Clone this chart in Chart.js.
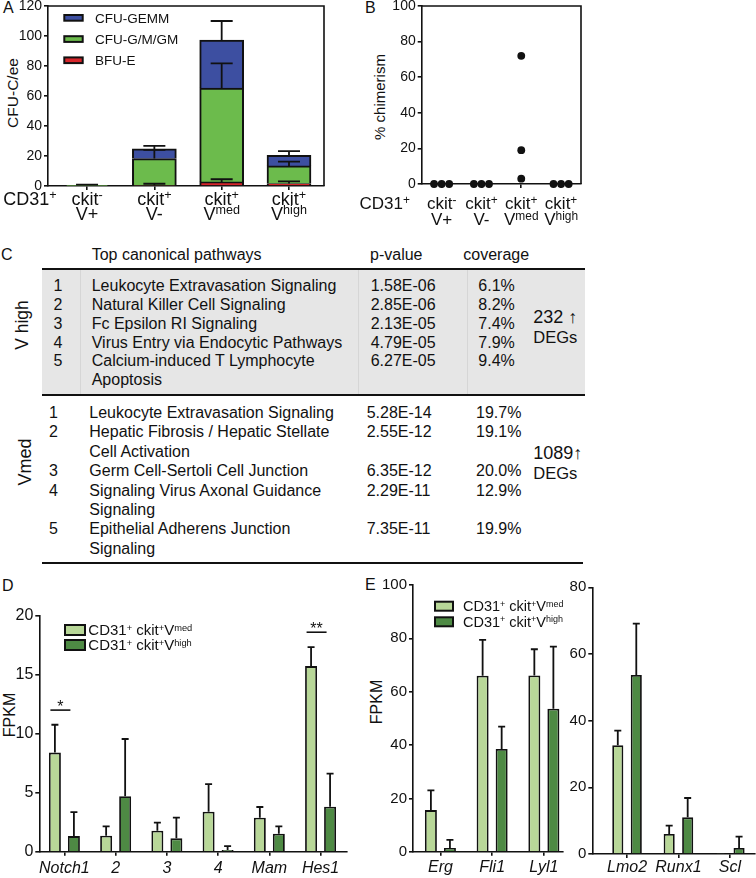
<!DOCTYPE html>
<html><head><meta charset="utf-8">
<script src="https://cdn.jsdelivr.net/npm/chart.js@4.4.1/dist/chart.umd.min.js"></script>
<style>
html,body{margin:0;padding:0;background:#fff;}
body{width:756px;height:878px;position:relative;overflow:hidden;font-family:"Liberation Sans",Arial,sans-serif;color:#111;}
canvas{position:absolute;}
.abs{position:absolute;white-space:nowrap;}
.rot{position:absolute;white-space:nowrap;transform:translate(-50%,-50%) rotate(-90deg);}
</style></head><body>
<script>
// ================= DATA =================
// Panel A (stacked colony counts, mean + SD)
const aCategoryLines = [['ckit^{-}','V+'],['ckit^{+}','V-'],['ckit^{+}','V^{med}'],['ckit^{+}','V^{high}']];
const aSeriesLabels = ['BFU-E','CFU-G/M/GM','CFU-GEMM'];
const aBFUE      = [0,   0.5,  2.7, 1.6];
const aBFUEsd    = [0,   1.0,  1.8, 1.5];
const aCFUGMGM   = [0.3, 17.8, 62.6, 11.8];
const aCFUGMGMsd = [0.6, 5.8,  16.4, 2.9];
const aCFUGEMM   = [0,   6.4,  32.0, 7.1];
const aCFUGEMMsd = [0,   2.0,  12.7, 2.8];
const aYTicks = [0,20,40,60,80,100,120];
const aYTitle = 'CFU-C/ee';
const groupPrefix = 'CD31^{+}';

// Panel B (% chimerism, individual recipients)
const bCkitNegVpos  = [0,0,0];
const bCkitPosVneg  = [0,0,0];
const bCkitPosVmed  = [72,19,3];
const bCkitPosVhigh = [0,0,0];
const bYTicks = [0,20,40,60,80,100];
const bYTitle = '% chimerism';

// Panel C (table)
const cHeader = ['Top canonical pathways','p-value','coverage'];
const cVhighPathways = ['Leukocyte Extravasation Signaling','Natural Killer Cell Signaling','Fc Epsilon RI Signaling','Virus Entry via Endocytic Pathways','Calcium-induced T Lymphocyte Apoptosis'];
const cVhighPvalues  = ['1.58E-06','2.85E-06','2.13E-05','4.79E-05','6.27E-05'];
const cVhighCoverage = ['6.1%','8.2%','7.4%','7.9%','9.4%'];
const cVhighDEGs = ['232 \u2191','DEGs'];
const cVmedPathways = ['Leukocyte Extravasation Signaling','Hepatic Fibrosis / Hepatic Stellate Cell Activation','Germ Cell-Sertoli Cell Junction','Signaling Virus Axonal Guidance Signaling','Epithelial Adherens Junction Signaling'];
const cVmedPvalues  = ['5.28E-14','2.55E-12','6.35E-12','2.29E-11','7.35E-11'];
const cVmedCoverage = ['19.7%','19.1%','20.0%','12.9%','19.9%'];
const cVmedDEGs = ['1089\u2191','DEGs'];
const cGroupNames = ['V high','Vmed'];

// Panel D (Notch pathway FPKM)
const seriesLabels = ['CD31^{+} ckit^{+}V^{med}','CD31^{+} ckit^{+}V^{high}'];
const dGenes = ['Notch1','2','3','4','Mam','Hes1'];
const dVmed     = [8.4, 1.35, 1.78, 3.39, 2.88, 15.73];
const dVmedSd   = [2.36, 0.8, 0.68, 2.34, 0.91, 1.61];
const dVhigh    = [1.32, 4.7, 1.13, 0.14, 1.53, 3.81];
const dVhighSd  = [2.03, 4.85, 1.75, 0.34, 0.62, 2.8];
const dYTicks = [0,5,10,15,20];
const dSignificance = [{gene:'Notch1', label:'*', level:12.0},{gene:'Hes1', label:'**', level:18.6}];

// Panel E (haematopoietic TF FPKM)
const eGenesLeft   = ['Erg','Fli1','Lyl1'];
const eLeftVmed    = [15.6, 66.0, 66.1];
const eLeftVmedSd  = [7.4, 13.4, 9.8];
const eLeftVhigh   = [1.4, 38.5, 53.6];
const eLeftVhighSd = [3.0, 8.4, 23.3];
const eGenesRight   = ['Lmo2','Runx1','Scl'];
const eRightVmed    = [32.6, 6.0, 0.3];
const eRightVmedSd  = [4.4, 2.5, 0];
const eRightVhigh   = [53.7, 11.0, 1.8];
const eRightVhighSd = [15.4, 5.8, 3.4];
const eLeftYTicks  = [0,20,40,60,80,100];
const eRightYTicks = [0,20,40,60,80];
const fpkmTitle = 'FPKM';

// ================= STYLE =================
const FONT = '"Liberation Sans", Arial, sans-serif';
const INK = '#111';
const COL_GEMM = '#3d4fa1', COL_GMGM = '#6cbb4c', COL_BFUE = '#d7262b';
const COL_MED = '#b8d798', COL_HIGH = '#4e8a44';

Chart.defaults.font.family = FONT;
Chart.defaults.color = INK;
Chart.defaults.animation = false;

// ================= HELPERS =================
function parseRich(s){
  const parts=[]; const re=/\^\{([^}]*)\}/g; let last=0,m;
  while((m=re.exec(s))){ if(m.index>last) parts.push({t:s.slice(last,m.index),sup:false}); parts.push({t:m[1],sup:true}); last=re.lastIndex; }
  if(last<s.length) parts.push({t:s.slice(last),sup:false});
  return parts;
}
function drawRich(ctx, s, x, baseline, size, align, supRatio){
  const parts=parseRich(s), sup=size*(supRatio||0.62), raise=size*0.32;
  let total=0;
  parts.forEach(p=>{ ctx.font=(p.sup?sup:size)+'px '+FONT; p.w=ctx.measureText(p.t).width; total+=p.w; });
  let cx = align==='center' ? x-total/2 : x;
  ctx.textAlign='left'; ctx.textBaseline='alphabetic';
  parts.forEach(p=>{ ctx.font=(p.sup?sup:size)+'px '+FONT; ctx.fillText(p.t, cx, p.sup?baseline-raise:baseline); cx+=p.w; });
}
function addCanvas(left, top, w, h){
  const c=document.createElement('canvas'); c.width=w; c.height=h;
  c.style.left=left+'px'; c.style.top=top+'px'; c.style.width=w+'px'; c.style.height=h+'px';
  document.body.appendChild(c); return c;
}
function addText(txt, left, top, size, lh, extra){
  const d=document.createElement('div'); d.className='abs'; d.textContent=txt;
  d.style.left=left+'px'; d.style.top=top+'px'; d.style.fontSize=size+'px'; d.style.lineHeight=lh+'px';
  if(extra) Object.assign(d.style, extra);
  document.body.appendChild(d); return d;
}
function addRot(txt, cx, cy, size){
  const d=document.createElement('div'); d.className='rot'; d.textContent=txt;
  d.style.left=cx+'px'; d.style.top=cy+'px'; d.style.fontSize=size+'px'; d.style.lineHeight=size+'px';
  document.body.appendChild(d); return d;
}
function yAxis(ticksArr, size, width, stacked){
  return {type:'linear', position:'left', stacked:!!stacked, min:ticksArr[0], max:ticksArr[ticksArr.length-1],
    afterBuildTicks(s){ s.ticks = ticksArr.map(v=>({value:v})); },
    ticks:{font:{size:size}, color:INK, padding:2},
    grid:{drawOnChartArea:false, drawTicks:true, tickLength:4, color:INK, lineWidth:1.6},
    border:{display:true, color:INK, width:1.6},
    afterFit(s){ s.width=width; }};
}
function xAxis(labels, min, max, height, tickOpts){
  return {type:'linear', position:'bottom', min:min, max:max, offset:false, bounds:'data',
    afterBuildTicks(s){ s.ticks = labels.map((_,i)=>({value:i})); },
    ticks:Object.assign({autoSkip:false, maxRotation:0, minRotation:0, color:INK, callback:(v)=>labels[v]}, tickOpts),
    grid:{offset:false, drawOnChartArea:false, drawTicks:true, tickLength:4, color:INK, lineWidth:1.6},
    border:{display:true, color:INK, width:1.6},
    afterFit(s){ s.height=height; }};
}
function xy(arr){ return arr.map((v,i)=>({x:i, y:v})); }

// plugins (closures)
function errorBars(cap, lw){
  return {id:'errorBars', afterDatasetsDraw(chart){
    const ctx=chart.ctx, ys=chart.scales.y;
    chart.data.datasets.forEach((ds,di)=>{
      if(!ds.errors) return;
      chart.getDatasetMeta(di).data.forEach((el,i)=>{
        const e=ds.errors[i]; if(!e) return;
        const top=ys.getValueForPixel(el.y), yEnd=ys.getPixelForValue(top+e);
        ctx.save(); ctx.strokeStyle=INK; ctx.lineWidth=lw; ctx.lineCap='butt';
        ctx.beginPath(); ctx.moveTo(el.x, el.y); ctx.lineTo(el.x, yEnd);
        ctx.moveTo(el.x-cap/2, yEnd); ctx.lineTo(el.x+cap/2, yEnd); ctx.stroke(); ctx.restore();
      });
    });
  }};
}
function frame(){
  return {id:'frame', afterDraw(chart){
    const ctx=chart.ctx, a=chart.chartArea;
    ctx.save(); ctx.strokeStyle=INK; ctx.lineWidth=1.6; ctx.beginPath();
    ctx.moveTo(a.left, a.top); ctx.lineTo(a.right, a.top); ctx.lineTo(a.right, a.bottom); ctx.stroke(); ctx.restore();
  }};
}
function boxLegend(o){
  return {id:'boxLegend', afterDraw(chart){
    const ctx=chart.ctx, a=chart.chartArea;
    o.order.forEach((di,k)=>{
      const ds=chart.data.datasets[di];
      const sx=a.left+o.x, sy=a.top+o.y+k*o.gap;
      ctx.save(); ctx.fillStyle=ds.backgroundColor; ctx.fillRect(sx,sy,o.w,o.h);
      ctx.strokeStyle=INK; ctx.lineWidth=o.lw; ctx.strokeRect(sx,sy,o.w,o.h);
      ctx.fillStyle=INK; drawRich(ctx, ds.label, sx+o.w+o.textGap, sy+o.h/2+o.size*0.36, o.size, 'left');
      ctx.restore();
    });
  }};
}
function catLabels(o){
  return {id:'catLabels', afterDraw(chart){
    const ctx=chart.ctx, xs=chart.scales.x, a=chart.chartArea;
    ctx.save(); ctx.fillStyle=INK;
    o.lines.forEach((ls,i)=>{ const px=xs.getPixelForValue(i); ls.forEach((t,j)=>drawRich(ctx,t,px,a.bottom+o.baselines[j],o.size,'center',0.7)); });
    drawRich(ctx, o.prefix, o.prefixX, a.bottom+o.baselines[0], o.size, 'left', 0.7);
    ctx.restore();
  }};
}
function sigMarks(marks, labels, o){
  return {id:'sigMarks', afterDatasetsDraw(chart){
    const ctx=chart.ctx, xs=chart.scales.x, ys=chart.scales.y;
    marks.forEach(m=>{
      const cx=xs.getPixelForValue(labels.indexOf(m.gene)), py=ys.getPixelForValue(m.level);
      ctx.save(); ctx.strokeStyle=INK; ctx.lineWidth=1.6; ctx.beginPath();
      ctx.moveTo(cx+o.from,py); ctx.lineTo(cx+o.to,py); ctx.stroke();
      ctx.fillStyle=INK; ctx.font=o.size+'px '+FONT; ctx.textAlign='center'; ctx.textBaseline='alphabetic';
      ctx.fillText(m.label, cx+(o.from+o.to)/2, py+o.dy); ctx.restore();
    });
  }};
}
const baseOpts = (pad, scales)=>({responsive:false, animation:false, events:[], layout:{padding:pad},
  plugins:{legend:{display:false}, tooltip:{enabled:false}}, scales:scales});

// ================= PANEL LETTERS & TITLES =================
addText('A', 3, 0, 16, 16);
addText('B', 365, 0, 16, 16);
addText('C', 1, 247, 16, 16);
addText('D', 2, 578, 16, 16);
addText('E', 365, 577, 16, 16);
addRot(aYTitle, 13, 93, 15.5);
addRot(bYTitle, 379, 97, 15);
addRot(fpkmTitle, 9.5, 715, 16);
addRot(fpkmTitle, 377, 702, 16);

// ================= PANEL A =================
new Chart(addCanvas(0,-8,345,238), {
  type:'bar',
  data:{datasets:[
    {label:aSeriesLabels[0], data:xy(aBFUE), errors:aBFUEsd, backgroundColor:COL_BFUE, stack:'s'},
    {label:aSeriesLabels[1], data:xy(aCFUGMGM), errors:aCFUGMGMsd, backgroundColor:COL_GMGM, stack:'s'},
    {label:aSeriesLabels[2], data:xy(aCFUGEMM), errors:aCFUGEMMsd, backgroundColor:COL_GEMM, stack:'s'}
  ].map(d=>Object.assign(d,{borderColor:INK, borderWidth:2, borderSkipped:'start', barThickness:44}))},
  options: baseOpts({top:14,right:21,bottom:0,left:0}, {
    x: xAxis(aCategoryLines, -0.58, 3.52, 44, {display:false}),
    y: yAxis(aYTicks, 14, 48, true)
  }),
  plugins:[errorBars(22,1.8), frame(),
    boxLegend({order:[2,1,0], x:16.3, y:9, gap:21.2, w:18.4, h:5.7, lw:2, textGap:12.3, size:13.5}),
    catLabels({lines:aCategoryLines, baselines:[19,34], size:18, prefix:groupPrefix, prefixX:3.3})]
});

// ================= PANEL B =================
function jitter(vals, spread){
  return vals.map((v,i)=>{ const same=vals.filter(u=>u===v).length; const k=vals.slice(0,i).filter(u=>u===v).length; return (k-(same-1)/2)*spread; });
}
const bGroups = [bCkitNegVpos, bCkitPosVneg, bCkitPosVmed, bCkitPosVhigh];
const bPoints = bGroups.flatMap((vals,g)=>jitter(vals,0.19).map((d,i)=>({x:g+d, y:vals[i]})));
new Chart(addCanvas(345,-8,250,238), {
  type:'scatter',
  data:{datasets:[{label:bYTitle, data:bPoints, backgroundColor:INK, borderColor:INK, pointRadius:3.9, borderWidth:0, clip:false}]},
  options: baseOpts({top:14,right:14,bottom:0,left:0}, {
    x: xAxis(aCategoryLines, -0.5, 3.5, 46, {display:false}),
    y: yAxis(bYTicks, 14, 76.7)
  }),
  plugins:[frame(), catLabels({lines:aCategoryLines, baselines:[25.3,41], size:17, prefix:groupPrefix, prefixX:14.5})]
});

// ================= PANEL C (table) =================
(function(){
  const gray=document.createElement('div'); gray.className='abs';
  Object.assign(gray.style,{left:'41.7px',top:'269.3px',width:'543.3px',height:'126px',background:'#e6e6e6'});
  document.body.appendChild(gray);
  [80,358,466.7].forEach(x=>{ const v=document.createElement('div'); v.className='abs';
    Object.assign(v.style,{left:x+'px',top:'270px',width:'1px',height:'124px',background:'#d6d6d6'}); document.body.appendChild(v); });
  [[269.3,41.7,585],[395.3,41.7,585],[563.3,41.7,583.3]].forEach(([y,x1,x2])=>{
    const l=document.createElement('div'); l.className='abs';
    Object.assign(l.style,{left:x1+'px',top:(y-1)+'px',width:(x2-x1)+'px',height:'2px',background:INK}); document.body.appendChild(l); });
  addText(cHeader[0], 91.7, 246, 16, 18);
  addText(cHeader[1], 370, 246, 16, 18);
  addText(cHeader[2], 463.3, 246, 16, 18);
  function section(top, lh, x, pathways, pvals, covs){
    const sec=document.createElement('div');
    Object.assign(sec.style,{position:'absolute',left:'0px',top:top+'px',width:'600px',fontSize:'16px',lineHeight:lh+'px'});
    pathways.forEach((p,i)=>{
      const row=document.createElement('div'); row.style.position='relative';
      const rk=document.createElement('span'); rk.textContent=String(i+1); Object.assign(rk.style,{position:'absolute',left:x.rank+'px',top:'0px'});
      const pw=document.createElement('div'); pw.textContent=p; Object.assign(pw.style,{marginLeft:x.path+'px',width:'256px'});
      const pv=document.createElement('span'); pv.textContent=pvals[i]; Object.assign(pv.style,{position:'absolute',left:x.pv+'px',top:'0px'});
      const cv=document.createElement('span'); cv.textContent=covs[i]; Object.assign(cv.style,{position:'absolute',left:x.cov+'px',top:'0px'});
      row.append(rk,pw,pv,cv); sec.appendChild(row);
    });
    document.body.appendChild(sec);
  }
  section(277.4, 18.7, {rank:53.5, path:91.7, pv:370.7, cov:478.3}, cVhighPathways, cVhighPvalues, cVhighCoverage);
  section(403, 19.4, {rank:49, path:89.3, pv:366.7, cov:476}, cVmedPathways, cVmedPvalues, cVmedCoverage);
  addText(cVhighDEGs[0], 533.3, 307.3, 18, 20);
  addText(cVhighDEGs[1], 533.3, 326.7, 16.5, 20);
  addText(cVmedDEGs[0], 533.3, 443.3, 18, 20);
  addText(cVmedDEGs[1], 533.3, 462.7, 16.5, 20);
  addRot(cGroupNames[0], 23.3, 325, 17.5);
  addRot(cGroupNames[1], 25, 461.7, 18);
})();

// ================= PANEL D =================
function pairSets(vmed, vmedSd, vhigh, vhighSd, cp, bp){
  return [
    {label:seriesLabels[0], data:xy(vmed), errors:vmedSd, backgroundColor:COL_MED},
    {label:seriesLabels[1], data:xy(vhigh), errors:vhighSd, backgroundColor:COL_HIGH}
  ].map(d=>Object.assign(d,{borderColor:INK, borderWidth:1.8, borderSkipped:'start', categoryPercentage:cp, barPercentage:bp}));
}
new Chart(addCanvas(0,601,365,277), {
  type:'bar',
  data:{datasets:pairSets(dVmed,dVmedSd,dVhigh,dVhighSd,0.742,0.63)},
  options: baseOpts({top:14.7,right:18.3,bottom:0,left:0}, {
    x: xAxis(dGenes, -0.49, 5.51, 26.3, {font:{size:16, style:'italic'}, padding:3}),
    y: yAxis(dYTicks, 16, 39.3)
  }),
  plugins:[errorBars(7,1.8), sigMarks(dSignificance, dGenes, {from:-14, to:6, size:16, dy:2}),
    boxLegend({order:[0,1], x:25.7, y:9.3, gap:15, w:20, h:10, lw:2, textGap:3.3, size:15})]
});

// ================= PANEL E =================
new Chart(addCanvas(365,571,205,307), {
  type:'bar',
  data:{datasets:pairSets(eLeftVmed,eLeftVmedSd,eLeftVhigh,eLeftVhighSd,0.736,0.63)},
  options: baseOpts({top:14,right:7,bottom:0,left:0}, {
    x: xAxis(eGenesLeft, -0.53, 2.37, 26.3, {font:{size:16, style:'italic'}, padding:2}),
    y: yAxis(eLeftYTicks, 15, 48)
  }),
  plugins:[errorBars(7,1.8),
    boxLegend({order:[0,1], x:22, y:16.7, gap:15.6, w:18, h:9, lw:2, textGap:10, size:14.5})]
});
new Chart(addCanvas(555,573,201,305), {
  type:'bar',
  data:{datasets:pairSets(eRightVmed,eRightVmedSd,eRightVhigh,eRightVhighSd,0.72,0.6)},
  options: baseOpts({top:14.3,right:1,bottom:0,left:0}, {
    x: xAxis(eGenesRight, -0.676, 2.49, 24, {font:{size:16, style:'italic'}, padding:0}),
    y: yAxis(eRightYTicks, 15, 37.3)
  }),
  plugins:[errorBars(7,1.8)]
});
</script>
</body></html>
